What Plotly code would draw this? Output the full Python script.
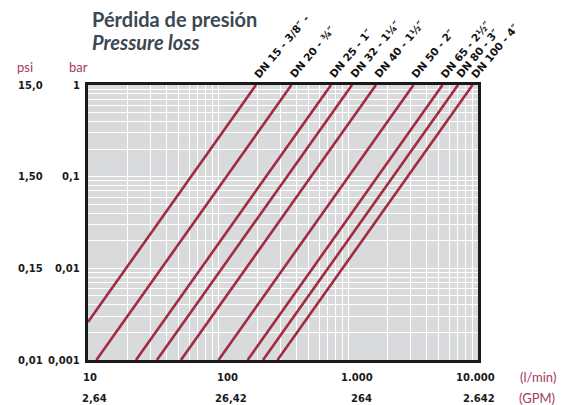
import numpy as np
import plotly.graph_objects as go

# ---- data ----
series_names = ['DN 15 - 3/8″ -', 'DN 20 - ¾″', 'DN 25 - 1″', 'DN 32 - 1¼″', 'DN 40 - 1½″',
                'DN 50 - 2″', 'DN 65 - 2½″', 'DN 80 - 3″', 'DN 100 - 4″']
start_flow = [10, 11.6, 23.4, 33.9, 51.9, 101, 169, 222, 287]        # l/min
start_bar = [0.0026, 0.001, 0.001, 0.001, 0.001, 0.001, 0.001, 0.001, 0.001]
end_flow = [196, 367, 740, 1073, 1641, 3190, 5333, 7015, 9080]        # l/min at 1 bar
end_bar = [1, 1, 1, 1, 1, 1, 1, 1, 1]

flow_ticks = [10, 100, 1000, 10000]
flow_labels = ['10', '100', '1.000', '10.000']
gpm_labels = ['2,64', '26,42', '264', '2.642']
bar_ticks = [1, 0.1, 0.01, 0.001]
bar_labels = ['1', '0,1', '0,01', '0,001']
psi_labels = ['15,0', '1,50', '0,15', '0,01']

LINE = '#a22a41'
ACCENT = '#a63a5e'
TITLE = '#3c4853'
TICKFONT = 'DejaVu Sans'

fig = go.Figure()
for name, x0, y0, x1, y1 in zip(series_names, start_flow, start_bar, end_flow, end_bar):
    fig.add_trace(go.Scatter(x=[x0, x1], y=[y0, y1], mode='lines', name=name,
                             line=dict(color=LINE, width=2.6), showlegend=False,
                             hoverinfo='skip'))

annotations = []
# DN labels, rotated, at top of each line
for name, x1, y1 in zip(series_names, end_flow, end_bar):
    annotations.append(dict(x=np.log10(x1), y=np.log10(y1), xref='x', yref='y',
                            text='<b>' + name + '</b>', showarrow=False, textangle=-50,
                            xanchor='left', yanchor='bottom', xshift=-7, yshift=2,
                            font=dict(family=TICKFONT, size=10.5, color='#111111')))

# bottom labels
xshifts = [2, 9, 9, -3]
for v, l1, l2, xs in zip(flow_ticks, flow_labels, gpm_labels, xshifts):
    annotations.append(dict(x=np.log10(v), y=0, xref='x', yref='paper', text='<b>' + l1 + '</b>',
                            showarrow=False, xanchor='center', yanchor='middle', yshift=-17, xshift=xs,
                            font=dict(family=TICKFONT, size=10, color='#1a1a1a')))
    annotations.append(dict(x=np.log10(v), y=0, xref='x', yref='paper', text='<b>' + l2 + '</b>',
                            showarrow=False, xanchor='center', yanchor='middle', yshift=-38, xshift=xs + 4,
                            font=dict(family=TICKFONT, size=10, color='#1a1a1a')))

# left labels
for v, lb, lp in zip(bar_ticks, bar_labels, psi_labels):
    annotations.append(dict(x=0, y=np.log10(v), xref='paper', yref='y', text='<b>' + lb + '</b>',
                            showarrow=False, xanchor='right', yanchor='middle', xshift=-6,
                            font=dict(family=TICKFONT, size=10, color='#1a1a1a')))
    annotations.append(dict(x=0, y=np.log10(v), xref='paper', yref='y', text='<b>' + lp + '</b>',
                            showarrow=False, xanchor='center', yanchor='middle', xshift=-58,
                            font=dict(family=TICKFONT, size=10, color='#1a1a1a')))

# unit labels and title
annotations += [
    dict(x=0, y=1, xref='paper', yref='paper', text='psi', showarrow=False, xanchor='center',
         yanchor='middle', xshift=-63, yshift=18, font=dict(family='Lato', size=13, color=ACCENT)),
    dict(x=0, y=1, xref='paper', yref='paper', text='bar', showarrow=False, xanchor='center',
         yanchor='middle', xshift=-10, yshift=18, font=dict(family='Lato', size=13, color=ACCENT)),
    dict(x=1, y=0, xref='paper', yref='paper', text='(l/min)', showarrow=False, xanchor='center',
         yanchor='middle', xshift=60, yshift=-17, font=dict(family='Lato', size=13, color=ACCENT)),
    dict(x=1, y=0, xref='paper', yref='paper', text='(GPM)', showarrow=False, xanchor='center',
         yanchor='middle', xshift=59, yshift=-38, font=dict(family='Lato', size=13, color=ACCENT)),
    dict(x=0, y=1, xref='paper', yref='paper', text='<b>Pérdida de presión</b>', showarrow=False,
         xanchor='left', yanchor='middle', xshift=2, yshift=66, font=dict(family='Lato', size=20, color=TITLE)),
    dict(x=0, y=1, xref='paper', yref='paper', text='<b><i>Pressure loss</i></b>', showarrow=False,
         xanchor='left', yanchor='middle', xshift=2, yshift=43, font=dict(family='Lato', size=20, color=TITLE)),
]

# page has an 8px body margin, so the figure is 8px smaller and margins shifted
fig.update_layout(
    width=563, height=397,
    margin=dict(l=80, r=93, t=77, b=45),
    paper_bgcolor='white', plot_bgcolor='#d9dadc',
    annotations=annotations,
    xaxis=dict(type='log', range=[1, 4], dtick='D1', showticklabels=False, ticks='',
               showgrid=True, gridcolor='white', gridwidth=1.3, zeroline=False,
               showline=True, mirror=True, linecolor='#1a1a1a', linewidth=2.5),
    yaxis=dict(type='log', range=[-3, 0], dtick='D1', showticklabels=False, ticks='',
               showgrid=True, gridcolor='white', gridwidth=1.3, zeroline=False,
               showline=True, mirror=True, linecolor='#1a1a1a', linewidth=2.5),
)

fig.write_html('out.html')
